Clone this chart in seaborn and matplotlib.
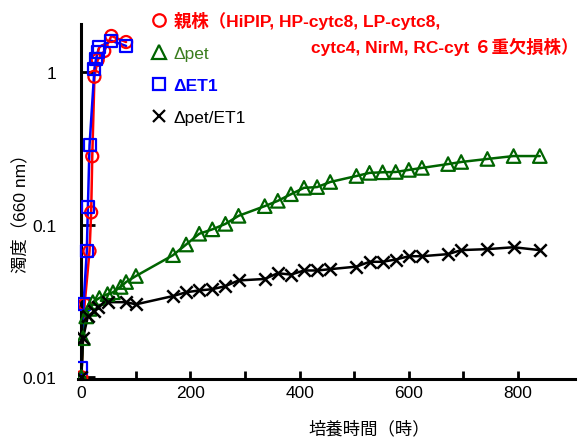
import numpy as np
import pandas as pd
import matplotlib
matplotlib.use("Agg")
import matplotlib.pyplot as plt
import seaborn as sns
from matplotlib.lines import Line2D
from matplotlib.ticker import FixedLocator, NullLocator, FixedFormatter

# culture time (h) and turbidity (OD660)
wt_t = [0, 6, 15, 18, 20, 24, 30, 42, 55, 82]
wt_od = [0.010, 0.030, 0.067, 0.12, 0.28, 0.93, 1.20, 1.37, 1.72, 1.57]

et1_t = [0, 4, 10, 12, 15, 24, 27, 30, 33, 55, 82]
et1_od = [0.0115, 0.030, 0.067, 0.13, 0.33, 1.05, 1.22, 1.35, 1.46, 1.60, 1.48]

pet_t = [0, 3, 9, 15, 21, 33, 48, 58, 72, 82, 100, 168, 192, 216, 240, 264, 288,
         336, 360, 384, 408, 432, 456, 504, 528, 552, 576, 600, 624, 672, 696,
         744, 792, 840]
pet_od = [0.010, 0.018, 0.025, 0.028, 0.031, 0.033, 0.035, 0.036, 0.039, 0.042,
          0.046, 0.063, 0.074, 0.087, 0.093, 0.101, 0.114, 0.132, 0.143, 0.158,
          0.174, 0.176, 0.190, 0.208, 0.218, 0.220, 0.221, 0.228, 0.235, 0.249,
          0.257, 0.269, 0.281, 0.281]

petet1_t = [0, 3, 12, 24, 30, 49, 82, 100, 168, 192, 216, 240, 264, 288, 336,
            360, 384, 408, 432, 456, 504, 528, 552, 576, 600, 624, 672, 696,
            744, 792, 840]
petet1_od = [0.010, 0.018, 0.025, 0.027, 0.029, 0.031, 0.031, 0.030, 0.034,
             0.036, 0.037, 0.0377, 0.0395, 0.043, 0.044, 0.048, 0.047, 0.050,
             0.050, 0.051, 0.053, 0.057, 0.057, 0.059, 0.062, 0.062, 0.064,
             0.068, 0.069, 0.071, 0.068]

labels = ["親株（HiPIP, HP-cytc8, LP-cytc8,", "Δpet", "ΔET1", "Δpet/ET1"]
label2 = "cytc4, NirM, RC-cyt ６重欠損株）"

sns.set_style("ticks")
plt.rcParams["font.family"] = ["Liberation Sans", "Noto Sans CJK JP"]
plt.rcParams["axes.edgecolor"] = "black"
plt.rcParams["text.color"] = "black"
plt.rcParams["axes.labelcolor"] = "black"
plt.rcParams["xtick.color"] = "black"
plt.rcParams["ytick.color"] = "black"

RED, GREEN, BLUE, BLACK = "#ff0000", "#006400", "#0000ff", "#000000"

fig = plt.figure(figsize=(5.87, 4.39), dpi=100)
ax = fig.add_axes([0.133, 0.134, 0.847, 0.809])
ax.set_yscale("log")

series = [
    (wt_t, wt_od, RED, "o"),
    (et1_t, et1_od, BLUE, "s"),
    (pet_t, pet_od, GREEN, "^"),
    (petet1_t, petet1_od, BLACK, "x"),
]

for t, od, c, m in series:
    df = pd.DataFrame({"t": t, "od": od})
    sns.lineplot(data=df, x="t", y="od", color=c, lw=1.8, ax=ax, sort=False)

for t, od, c, m in series:
    df = pd.DataFrame({"t": t, "od": od})
    if m == "x":
        sns.scatterplot(data=df, x="t", y="od", marker=m, color=c, s=80,
                        linewidth=1.8, ax=ax, zorder=4)
    else:
        size = 95 if m == "^" else 75
        sns.scatterplot(data=df, x="t", y="od", marker=m, facecolor="none",
                        edgecolor=c, s=size, linewidth=1.6, ax=ax, zorder=4)

ax.set_xlim(-6, 905)
ax.set_ylim(0.0097, 2.06)
ax.spines["left"].set_position(("data", 0))
ax.spines["right"].set_visible(False)
ax.spines["top"].set_visible(False)
for s in ["left", "bottom"]:
    ax.spines[s].set_linewidth(2.2)

ax.xaxis.set_major_locator(FixedLocator([0, 200, 400, 600, 800]))
ax.xaxis.set_minor_locator(FixedLocator([100, 300, 500, 700]))
ax.yaxis.set_major_locator(FixedLocator([0.01, 0.1, 1]))
ax.yaxis.set_major_formatter(FixedFormatter(["0.01", "0.1", "1"]))
ax.yaxis.set_minor_locator(NullLocator())
ax.tick_params(axis="x", which="both", direction="in", length=6, width=2,
               labelsize=12.5, pad=4)
ax.tick_params(axis="y", which="major", direction="in", length=10, width=2,
               labelsize=12.5, pad=18)

ax.set_xlabel("培養時間（時）", fontsize=12.5)
ax.xaxis.set_label_coords(0.585, -0.115)
ax.set_ylabel("濁度（660 nm）", fontsize=12.5)
ax.yaxis.set_label_coords(-0.1, 0.48)

handles = [
    Line2D([], [], ls="none", marker="o", mfc="none", mec=RED, ms=9, mew=1.6),
    Line2D([], [], ls="none", marker="^", mfc="none", mec=GREEN, ms=10, mew=1.6),
    Line2D([], [], ls="none", marker="s", mfc="none", mec=BLUE, ms=9, mew=1.6),
    Line2D([], [], ls="none", marker="x", color=BLACK, ms=9, mew=1.6),
]
leg = ax.legend(handles, labels, loc="upper left", bbox_to_anchor=(0.232, 1.005),
                bbox_transform=fig.transFigure, frameon=False, fontsize=12.5,
                handlelength=1.0, handletextpad=0.35, labelspacing=0.98,
                borderpad=0.3)
text_colors = [RED, "#3a7d1e", BLUE, BLACK]
text_weights = ["bold", "normal", "bold", "normal"]
for txt, c, w in zip(leg.get_texts(), text_colors, text_weights):
    txt.set_color(c)
    txt.set_fontweight(w)

fig.text(578 / 587, 1 - 47 / 439, label2, ha="right", va="center",
         color=RED, fontsize=12.5, fontweight="bold")

fig.savefig("out.png", dpi=100)
